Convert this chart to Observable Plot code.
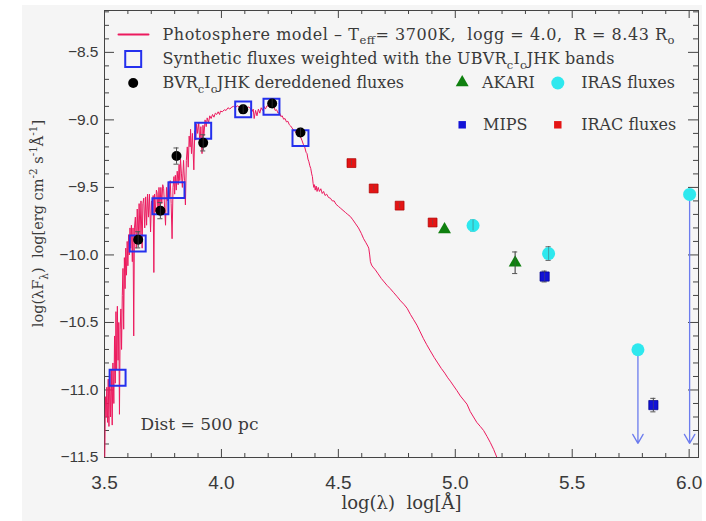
<!DOCTYPE html>
<html><head><meta charset="utf-8">
<script src="https://cdn.jsdelivr.net/npm/d3@7"></script>
<script src="https://cdn.jsdelivr.net/npm/@observablehq/plot@0.6"></script>
<style>
html,body{margin:0;padding:0;background:#fff;}
#chart{position:absolute;left:22px;top:5px;}
#chart svg text{white-space:pre;}
</style></head><body><div id="chart"></div>
<script>
// ---------------- DATA ----------------
const xTicks = [3.5, 4.0, 4.5, 5.0, 5.5, 6.0];
const yTicks = [-11.5, -11.0, -10.5, -10.0, -9.5, -9.0, -8.5];

// synthetic fluxes (UBVRcIcJHK)
const synthBands = ["U","B","V","Rc","Ic","J","H","K"];
const synthLogLambda = [3.556, 3.642, 3.739, 3.808, 3.922, 4.093, 4.214, 4.338];
const synthLogFlux = [-10.91, -9.915, -9.640, -9.520, -9.080, -8.922, -8.902, -9.135];

// dereddened BVRcIcJHK
const obsBands = ["B","V","Rc","Ic","J","H","K"];
const obsLogLambda = [3.644, 3.739, 3.808, 3.922, 4.093, 4.217, 4.338];
const obsLogFlux = [-9.888, -9.672, -9.268, -9.170, -8.922, -8.878, -9.093];
const obsErr = [0.06, 0.06, 0.06, 0.06, 0.03, 0.03, 0.03];

// IRAC
const iracLogLambda = [4.556, 4.651, 4.762, 4.903];
const iracLogFlux = [-9.320, -9.508, -9.635, -9.760];
const iracErr = [0.02, 0.02, 0.02, 0.02];

// AKARI
const akariLogLambda = [4.954, 5.256];
const akariLogFlux = [-9.812, -10.058];
const akariErr = [0.0, 0.08];

// IRAS detections and upper limits
const irasLogLambda = [5.076, 5.399];
const irasLogFlux = [-9.782, -9.990];
const irasErr = [0.04, 0.05];
const irasLimLogLambda = [5.781, 6.002];
const irasLimLogFlux = [-10.702, -9.552];
const limitArrowEnd = -11.395;

// MIPS
const mipsLogLambda = [5.382, 5.847];
const mipsLogFlux = [-10.160, -11.112];
const mipsErr = [0.04, 0.05];

// photosphere model (log lambda, log lambda F_lambda)
const modelSpectrum = [
[3.500,-11.65],[3.502,-11.40],[3.504,-11.05],[3.507,-11.20],[3.510,-10.98],[3.513,-11.24],
[3.516,-10.92],[3.519,-11.27],[3.522,-10.88],[3.526,-11.20],[3.529,-10.85],[3.533,-11.26],
[3.536,-10.80],[3.540,-11.10],[3.543,-10.60],[3.546,-10.95],[3.549,-10.42],[3.552,-10.85],
[3.555,-10.38],[3.558,-10.78],[3.561,-10.50],[3.564,-11.18],[3.567,-10.55],[3.570,-10.40],
[3.573,-10.70],[3.576,-10.30],[3.579,-10.10],[3.582,-10.55],[3.585,-10.02],[3.588,-10.25],
[3.591,-9.95],[3.594,-10.15],[3.597,-9.90],[3.600,-10.08],[3.603,-9.85],[3.606,-10.00],
[3.609,-9.80],[3.612,-9.95],[3.615,-9.78],[3.619,-10.05],[3.622,-9.80],[3.625,-10.60],
[3.628,-9.80],[3.632,-9.72],[3.636,-9.95],[3.640,-9.66],[3.644,-9.90],[3.648,-9.62],
[3.652,-9.85],[3.656,-9.60],[3.661,-9.95],[3.664,-9.62],[3.668,-9.58],[3.672,-9.80],
[3.676,-9.57],[3.680,-9.78],[3.684,-9.55],[3.688,-9.72],[3.692,-9.55],[3.697,-9.83],
[3.701,-9.60],[3.705,-9.70],[3.708,-9.56],[3.711,-10.13],[3.714,-9.55],[3.718,-9.68],
[3.722,-9.52],[3.725,-9.54],[3.729,-9.70],[3.733,-9.50],[3.737,-9.66],[3.741,-9.50],
[3.745,-9.62],[3.749,-9.48],[3.753,-9.51],[3.757,-9.65],[3.761,-9.78],[3.765,-9.50],
[3.769,-9.60],[3.773,-9.46],[3.777,-9.58],[3.781,-9.45],[3.785,-9.62],[3.789,-9.88],
[3.793,-9.50],[3.797,-9.42],[3.800,-9.55],[3.803,-9.41],[3.807,-9.52],[3.811,-9.38],
[3.815,-9.48],[3.819,-9.33],[3.822,-9.45],[3.825,-9.29],[3.829,-9.40],[3.833,-9.50],
[3.838,-9.30],[3.842,-9.45],[3.846,-9.63],[3.850,-9.30],[3.854,-9.20],[3.858,-9.35],
[3.862,-9.12],[3.866,-9.20],[3.868,-9.07],[3.872,-9.25],[3.876,-9.10],[3.882,-9.37],
[3.886,-9.08],[3.890,-9.15],[3.894,-9.03],[3.898,-9.10],[3.903,-9.02],[3.908,-9.18],
[3.912,-9.05],[3.917,-9.25],[3.921,-9.04],[3.925,-9.12],[3.930,-9.00],[3.935,-9.05],
[3.939,-8.985],[3.945,-9.02],[3.950,-8.97],[3.956,-8.99],[3.962,-8.96],[3.968,-8.98],
[3.974,-8.95],[3.980,-8.96],[3.986,-8.94],[3.992,-8.96],[3.996,-8.935],[4.004,-8.94],
[4.012,-8.925],[4.020,-8.93],[4.028,-8.91],[4.036,-8.92],[4.044,-8.905],[4.052,-8.90],
[4.060,-8.91],[4.068,-8.895],[4.076,-8.905],[4.084,-8.90],[4.092,-8.91],[4.100,-8.905],
[4.108,-8.915],[4.116,-8.905],[4.124,-8.915],[4.130,-8.94],[4.136,-8.92],[4.140,-8.99],
[4.146,-8.93],[4.152,-8.97],[4.158,-8.92],[4.164,-8.95],[4.170,-8.91],[4.176,-8.93],
[4.182,-8.90],[4.188,-8.92],[4.195,-8.895],[4.202,-8.90],[4.209,-8.875],[4.216,-8.885],
[4.224,-8.90],[4.230,-8.93],[4.236,-8.925],[4.242,-8.95],[4.248,-8.945],[4.254,-8.975],
[4.260,-8.97],[4.266,-8.995],[4.272,-8.99],[4.278,-9.015],[4.284,-9.01],[4.290,-9.035],
[4.296,-9.045],[4.302,-9.06],[4.308,-9.075],[4.314,-9.08],[4.320,-9.10],[4.326,-9.105],
[4.332,-9.12],[4.338,-9.125],[4.344,-9.15],[4.350,-9.18],[4.356,-9.20],[4.362,-9.24],
[4.366,-9.25],[4.370,-9.29],[4.374,-9.31],[4.378,-9.34],[4.382,-9.36],[4.386,-9.40],
[4.389,-9.42],[4.392,-9.47],[4.395,-9.50],[4.398,-9.48],[4.401,-9.52],[4.405,-9.49],
[4.409,-9.53],[4.414,-9.50],[4.419,-9.53],[4.425,-9.51],[4.431,-9.545],[4.437,-9.53],
[4.443,-9.56],[4.450,-9.55],[4.458,-9.575],[4.466,-9.58],[4.474,-9.60],[4.482,-9.60],
[4.490,-9.625],[4.500,-9.64],[4.510,-9.655],[4.520,-9.67],[4.530,-9.685],[4.540,-9.70],
[4.551,-9.715],[4.562,-9.74],[4.574,-9.77],[4.586,-9.80],[4.598,-9.84],[4.608,-9.88],
[4.618,-9.91],[4.626,-9.935],[4.630,-9.95],[4.634,-10.00],[4.637,-10.05],[4.642,-10.075],
[4.648,-10.09],[4.658,-10.11],[4.670,-10.14],[4.684,-10.175],[4.696,-10.20],[4.708,-10.225],
[4.722,-10.25],[4.737,-10.28],[4.752,-10.31],[4.766,-10.34],[4.780,-10.365],[4.794,-10.395],
[4.808,-10.44],[4.822,-10.48],[4.836,-10.52],[4.850,-10.57],[4.864,-10.62],[4.878,-10.665],
[4.893,-10.71],[4.910,-10.76],[4.925,-10.80],[4.940,-10.84],[4.955,-10.875],[4.968,-10.91],
[4.979,-10.935],[4.993,-10.97],[5.007,-11.005],[5.022,-11.045],[5.036,-11.075],[5.050,-11.105],
[5.064,-11.16],[5.078,-11.20],[5.092,-11.24],[5.107,-11.27],[5.121,-11.30],[5.136,-11.345],
[5.150,-11.39],[5.164,-11.44],[5.178,-11.50],[5.185,-11.53]
];

// texts
const legendLabels = [
  "Photosphere model – T_{eff}= 3700K,  logg = 4.0,  R = 8.43 R_{o}",
  "Synthetic fluxes weighted with the UBVR_{c}I_{c}JHK bands",
  "BVR_{c}I_{c}JHK dereddened fluxes",
  "AKARI", "IRAS fluxes", "MIPS", "IRAC fluxes"
];
const distLabel = "Dist = 500 pc";
const xLabel = "log(λ)  log[Å]";
const yLabel = "log(λF_{λ})  log[erg cm^{-2} s^{-1}Å^{-1}]";

// ---------------- BUILD ----------------
const pts = (xs, ys, es) => xs.map((x, i) => ({x, y: ys[i], e: es ? es[i] : 0}));
const synth = pts(synthLogLambda, synthLogFlux);
const obs = pts(obsLogLambda, obsLogFlux, obsErr);
const irac = pts(iracLogLambda, iracLogFlux, iracErr);
const akari = pts(akariLogLambda, akariLogFlux, akariErr);
const iras = pts(irasLogLambda, irasLogFlux, irasErr);
const irasLim = pts(irasLimLogLambda, irasLimLogFlux);
const mips = pts(mipsLogLambda, mipsLogFlux, mipsErr);
const errs = [...obs, ...irac, ...akari, ...iras, ...mips].filter(d => d.e > 0);

const W = 680, H = 516, ML = 82, MR = 4, MT = 5, MB = 64;
const PW = W - ML - MR, PH = H - MT - MB;
const xMinor = d3.range(35, 61).filter(d => d % 5 !== 0).map(d => d / 10);
const yMinor = d3.range(-115, -81).filter(d => d % 5 !== 0).map(d => d / 10);

const C = {
  model: "#ec1a5e", synth: "#2430ee", obs: "#000", irac: "#e41414", akari: "#0f800f",
  iras: "#2ee8ee", mips: "#1212d6", lim: "#6c7cee", err: "#555", text: "#3a3a3a", axis: "#444"
};
const serif = "'DejaVu Serif', serif";
const lineShape = {draw(ctx, l) { ctx.moveTo(0, 0); ctx.lineTo(0, -l); }};
const TL = {x: null, y: null, frameAnchor: "top-left"};
const legText = (s, dx, dy, cls) => Plot.text([s], {...TL, text: d => d, dx, dy, textAnchor: "start",
  lineAnchor: "middle", fontFamily: serif, fontSize: 16, fill: C.text, className: cls});

const chart = Plot.plot({
  width: W, height: H, marginLeft: ML, marginRight: MR, marginTop: MT, marginBottom: MB,
  style: {background: "#f5f5f5", color: "#3a3a3a", fontFamily: "'Liberation Sans', Arial, sans-serif", fontSize: "15px", overflow: "visible"},
  x: {domain: [3.5, 6.04]},
  y: {domain: [-11.5, -8.19]},
  marks: [
    // ticks (inward, all four sides)
    Plot.tickX(xTicks, {x: d => d, insetTop: PH - 8, stroke: C.axis}),
    Plot.tickX(xTicks, {x: d => d, insetBottom: PH - 8, stroke: C.axis}),
    Plot.tickX(xMinor, {x: d => d, insetTop: PH - 4, stroke: C.axis}),
    Plot.tickX(xMinor, {x: d => d, insetBottom: PH - 4, stroke: C.axis}),
    Plot.tickY(yTicks, {y: d => d, insetRight: PW - 10, stroke: C.axis}),
    Plot.tickY(yTicks, {y: d => d, insetLeft: PW - 10, stroke: C.axis}),
    Plot.tickY(yMinor, {y: d => d, insetRight: PW - 5, stroke: C.axis}),
    Plot.tickY(yMinor, {y: d => d, insetLeft: PW - 5, stroke: C.axis}),
    Plot.frame({stroke: C.axis, strokeWidth: 1}),
    Plot.axisX(xTicks, {tickSize: 0, tickPadding: 18, fontSize: 19, tickFormat: d3.format(".1f"), label: null}),
    Plot.axisY(yTicks, {tickSize: 0, tickPadding: 6, fontSize: 15.5, tickFormat: d3.format(".1f"), label: null}),

    // model spectrum
    Plot.line(modelSpectrum, {x: d => d[0], y: d => d[1], stroke: C.model, strokeWidth: 1, clip: true}),

    // upper limits
    Plot.arrow(irasLim, {x: "x", y1: "y", y2: () => limitArrowEnd, stroke: C.lim, strokeWidth: 1.3, headLength: 12, headAngle: 60}),

    // synthetic fluxes
    Plot.dot(synth, {x: "x", y: "y", symbol: "square", r: 9, stroke: C.synth, strokeWidth: 2, fill: "none"}),

    // error bars
    Plot.ruleX(errs, {x: "x", y1: d => d.y - d.e, y2: d => d.y + d.e, stroke: C.err, strokeWidth: 1}),
    Plot.ruleY(errs, {y: d => d.y - d.e, x1: d => d.x - 0.011, x2: d => d.x + 0.011, stroke: C.err, strokeWidth: 1}),
    Plot.ruleY(errs, {y: d => d.y + d.e, x1: d => d.x - 0.011, x2: d => d.x + 0.011, stroke: C.err, strokeWidth: 1}),

    // observed photometry
    Plot.dot(obs, {x: "x", y: "y", r: 5, fill: C.obs}),
    Plot.dot(irac, {x: "x", y: "y", symbol: "square", r: 5, fill: C.irac, stroke: "#a00", strokeWidth: 0.7}),
    Plot.dot(akari, {x: "x", y: "y", symbol: "triangle", r: 4.8, fill: C.akari}),
    Plot.dot(iras, {x: "x", y: "y", r: 6.5, fill: C.iras}),
    Plot.dot(irasLim, {x: "x", y: "y", r: 6.5, fill: C.iras}),
    Plot.dot(mips, {x: "x", y: "y", symbol: "square", r: 5.2, fill: C.mips, stroke: "#00008a", strokeWidth: 0.7}),
    Plot.ruleX(errs, {x: "x", y1: d => d.y - d.e, y2: d => d.y + d.e, stroke: C.err, strokeWidth: 0.8, strokeOpacity: 0.6}),

    // legend
    Plot.vector([0], {...TL, dx: 14, dy: 24, length: 30, rotate: 90, anchor: "start", shape: lineShape, stroke: C.model, strokeWidth: 2}),
    legText(legendLabels[0], 58, 24, "leg-row1"),
    Plot.dot([0], {...TL, dx: 28.7, dy: 48.5, symbol: "square", r: 9, stroke: C.synth, strokeWidth: 2, fill: "none"}),
    legText(legendLabels[1], 58, 48.5, "leg-row2"),
    Plot.dot([0], {...TL, dx: 28.7, dy: 72.5, r: 5, fill: C.obs}),
    legText(legendLabels[2], 58, 72.5),
    Plot.dot([0], {...TL, dx: 357.7, dy: 72, symbol: "triangle", r: 4.8, fill: C.akari}),
    legText(legendLabels[3], 377.5, 72.5),
    Plot.dot([0], {...TL, dx: 453.3, dy: 72.5, r: 6.5, fill: C.iras}),
    legText(legendLabels[4], 476.7, 72.5),
    Plot.dot([0], {...TL, dx: 357.7, dy: 114.3, symbol: "square", r: 4.2, fill: C.mips}),
    legText(legendLabels[5], 378.5, 114.3),
    Plot.dot([0], {...TL, dx: 453.3, dy: 114.3, symbol: "square", r: 4.2, fill: C.irac}),
    legText(legendLabels[6], 476.7, 114.3),

    // annotations and axis labels
    Plot.text([distLabel], {x: null, y: null, frameAnchor: "bottom-left", text: d => d, dx: 36, dy: -33, textAnchor: "start", lineAnchor: "middle", fontFamily: serif, fontSize: 17, fill: C.text}),
    Plot.text([xLabel], {x: null, y: null, frameAnchor: "bottom", text: d => d, dx: 0, dy: 46, lineAnchor: "middle", fontFamily: serif, fontSize: 18, fill: C.text}),
    Plot.text([yLabel], {x: null, y: null, frameAnchor: "left", text: d => d, dx: -66, dy: -10.5, rotate: -90, lineAnchor: "middle", fontFamily: serif, fontSize: 14.5, fill: C.text, className: "ylab"})
  ]
});

document.getElementById("chart").appendChild(chart);

// turn _{..} / ^{..} markup into sub/superscript tspans
chart.querySelectorAll("text").forEach(t => {
  const s = t.textContent;
  if (!/[_^]\{/.test(s)) return;
  const fs = parseFloat(getComputedStyle(t).fontSize) || 14;
  while (t.firstChild) t.removeChild(t.firstChild);
  const re = /([_^])\{([^}]*)\}/g;
  let last = 0, m, shift = 0;
  const add = (str, kind) => {
    const ts = document.createElementNS("http://www.w3.org/2000/svg", "tspan");
    const target = kind === "_" ? fs * 0.3 : kind === "^" ? -fs * 0.4 : 0;
    const dy = target - shift; shift = target;
    if (dy) ts.setAttribute("dy", dy.toFixed(2));
    if (kind) ts.setAttribute("font-size", (fs * 0.72).toFixed(2));
    ts.textContent = str;
    t.appendChild(ts);
  };
  while ((m = re.exec(s))) {
    if (m.index > last) add(s.slice(last, m.index), null);
    add(m[2], m[1]);
    last = re.lastIndex;
  }
  if (last < s.length) add(s.slice(last), null);
});

// stretch the two long legend lines to the reference's widths
const fit = (sel, len) => chart.querySelectorAll(sel + " text").forEach(t => {
  t.setAttribute("textLength", len); t.setAttribute("lengthAdjust", "spacing");
});
fit(".leg-row1", 512);
fit(".leg-row2", 452);

// center the rotated y label explicitly (anchor at start, shifted by half its length)
chart.querySelectorAll(".ylab text").forEach(t => {
  const len = t.getComputedTextLength();
  t.setAttribute("text-anchor", "start");
  t.setAttribute("x", (-len / 2).toFixed(1));
});
</script></body></html>
